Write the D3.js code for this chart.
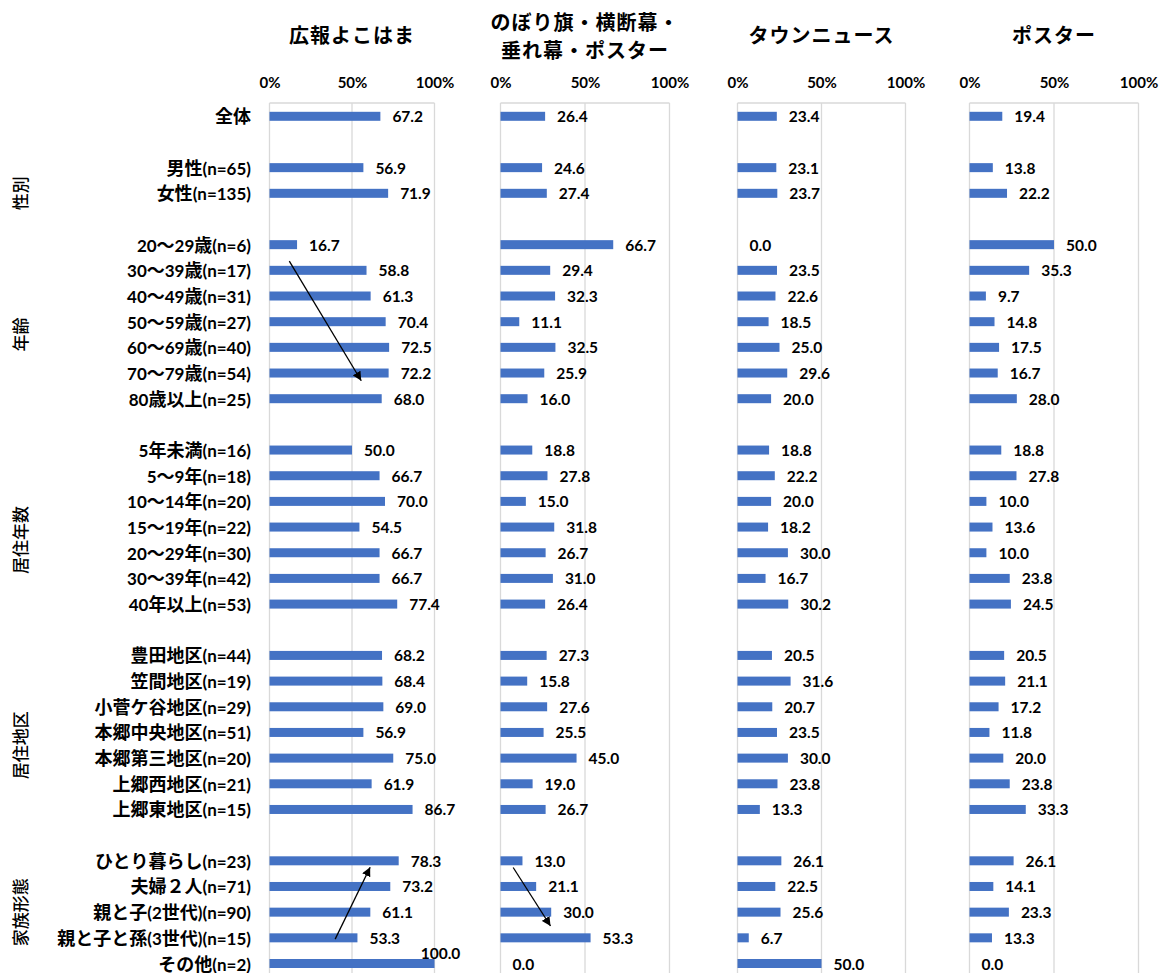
<!DOCTYPE html>
<html>
<head>
<meta charset="utf-8">
<title>広報媒体別 認知度</title>
<style type="text/css">
	body{ margin:0; background:#fff; }
	#chart text{ font-family: Lato, "Noto Sans CJK JP", sans-serif; fill:#000; }
</style>
</head>
<body>
<div id="chart"></div>

<script src="https://cdn.jsdelivr.net/npm/d3@7/dist/d3.min.js"></script>
<script>
	// rows in slot order, "" = blank spacer row
	var rowLabels = [
		'全体', '',
		'男性(n=65)', '女性(n=135)', '',
		'20～29歳(n=6)', '30～39歳(n=17)', '40～49歳(n=31)', '50～59歳(n=27)', '60～69歳(n=40)', '70～79歳(n=54)', '80歳以上(n=25)', '',
		'5年未満(n=16)', '5～9年(n=18)', '10～14年(n=20)', '15～19年(n=22)', '20～29年(n=30)', '30～39年(n=42)', '40年以上(n=53)', '',
		'豊田地区(n=44)', '笠間地区(n=19)', '小菅ケ谷地区(n=29)', '本郷中央地区(n=51)', '本郷第三地区(n=20)', '上郷西地区(n=21)', '上郷東地区(n=15)', '',
		'ひとり暮らし(n=23)', '夫婦２人(n=71)', '親と子(2世代)(n=90)', '親と子と孫(3世代)(n=15)', 'その他(n=2)'
	];

	var kouhou = [67.2, null, 56.9, 71.9, null, 16.7, 58.8, 61.3, 70.4, 72.5, 72.2, 68.0, null,
		50.0, 66.7, 70.0, 54.5, 66.7, 66.7, 77.4, null, 68.2, 68.4, 69.0, 56.9, 75.0, 61.9, 86.7, null,
		78.3, 73.2, 61.1, 53.3, 100.0];
	var nobori = [26.4, null, 24.6, 27.4, null, 66.7, 29.4, 32.3, 11.1, 32.5, 25.9, 16.0, null,
		18.8, 27.8, 15.0, 31.8, 26.7, 31.0, 26.4, null, 27.3, 15.8, 27.6, 25.5, 45.0, 19.0, 26.7, null,
		13.0, 21.1, 30.0, 53.3, 0.0];
	var townNews = [23.4, null, 23.1, 23.7, null, 0.0, 23.5, 22.6, 18.5, 25.0, 29.6, 20.0, null,
		18.8, 22.2, 20.0, 18.2, 30.0, 16.7, 30.2, null, 20.5, 31.6, 20.7, 23.5, 30.0, 23.8, 13.3, null,
		26.1, 22.5, 25.6, 6.7, 50.0];
	var poster = [19.4, null, 13.8, 22.2, null, 50.0, 35.3, 9.7, 14.8, 17.5, 16.7, 28.0, null,
		18.8, 27.8, 10.0, 13.6, 10.0, 23.8, 24.5, null, 20.5, 21.1, 17.2, 11.8, 20.0, 23.8, 33.3, null,
		26.1, 14.1, 23.3, 13.3, 0.0];

	var panelTitles = [['広報よこはま'], ['のぼり旗・横断幕・', '垂れ幕・ポスター'], ['タウンニュース'], ['ポスター']];
	var panelValues = [kouhou, nobori, townNews, poster];
	var tickValues = [0, 50, 100];

	// group captions: first and last slot covered (trailing blank included)
	var groups = [
		{ name: '性別', first: 2, last: 4 },
		{ name: '年齢', first: 5, last: 12 },
		{ name: '居住年数', first: 13, last: 20 },
		{ name: '居住地区', first: 21, last: 28 },
		{ name: '家族形態', first: 29, last: 33 }
	];

	// trend arrows: [value, slot] → [value, slot]
	var arrows = [
		{ panel: 0, from: [12, 5.64], to: [55.6, 10.3] },
		{ panel: 0, from: [39.8, 32.05], to: [61, 29.25] },
		{ panel: 1, from: [7.5, 29.26], to: [29.6, 31.54] }
	];

	var W = 1163, H = 973;
	var panelLeft = [269.5, 500.5, 737.5, 969.5];
	var panelWidth = [165, 169, 168, 169];
	var plotTop = 103, plotBottom = 990;
	var barH = 9;

	var svg = d3.select('#chart').append('svg')
		.attr('width', W).attr('height', H);

	svg.append('defs').append('marker')
		.attr('id', 'arrowhead')
		.attr('viewBox', '0 0 10 10')
		.attr('refX', 10).attr('refY', 5)
		.attr('markerWidth', 9).attr('markerHeight', 9)
		.attr('markerUnits', 'userSpaceOnUse')
		.attr('orient', 'auto')
		.append('path').attr('d', 'M0,0 L10,5 L0,10 z').attr('fill', '#000');

	var y = d3.scaleLinear().domain([0, rowLabels.length - 1]).range([116.3, 963.5]);

	// split a label into runs of wide (CJK) and narrow (latin) characters
	function runs(s){
		var out = [];
		for (var k = 0; k < s.length; k++) {
			var c = s[k];
			var wide = c.charCodeAt(0) > 0x2000;
			if (out.length && out[out.length - 1].wide === wide) out[out.length - 1].t += c;
			else out.push({ t: c, wide: wide });
		}
		return out;
	}

	// row labels
	svg.append('g').selectAll('text')
		.data(rowLabels)
		.enter().append('text')
		.attr('x', 251)
		.attr('y', function(d, i){ return y(i); })
		.attr('text-anchor', 'end')
		.attr('dominant-baseline', 'central')
		.style('font-weight', 'bold')
		.each(function(d){
			d3.select(this).selectAll('tspan')
				.data(runs(d))
				.enter().append('tspan')
				.style('font-size', function(r){ return r.wide ? '18px' : '17px'; })
				.text(function(r){ return r.t; });
		});

	// group captions
	svg.append('g').selectAll('text')
		.data(groups)
		.enter().append('text')
		.attr('transform', function(d){
			return 'translate(20,' + y((d.first + d.last) / 2) + ') rotate(-90)';
		})
		.attr('text-anchor', 'middle')
		.attr('dominant-baseline', 'central')
		.style('font-size', '17px')
		.style('font-weight', '500')
		.text(function(d){ return d.name; });

	panelValues.forEach(function(values, p){
		var x = d3.scaleLinear().domain([0, 100]).range([panelLeft[p], panelLeft[p] + panelWidth[p]]);
		var g = svg.append('g');

		// title
		var titleLines = panelTitles[p];
		var tY = titleLines.length === 1 ? [35] : [22, 50];
		g.selectAll('.title')
			.data(titleLines)
			.enter().append('text')
			.attr('class', 'title')
			.attr('x', x(50))
			.attr('y', function(d, i){ return tY[i]; })
			.attr('text-anchor', 'middle')
			.attr('dominant-baseline', 'central')
			.style('font-size', '20px')
			.style('letter-spacing', '1px')
			.style('font-weight', 'bold')
			.text(function(d){ return d; });

		// top axis labels
		var axis = d3.axisTop(x).tickValues(tickValues)
			.tickFormat(function(d){ return d + '%'; })
			.tickSize(0).tickPadding(0);
		var ax = g.append('g').attr('transform', 'translate(0,88)').call(axis);
		ax.select('.domain').remove();
		ax.selectAll('text')
			.style('font-size', '15px')
			.style('font-weight', 'bold')
			.style('font-family', 'Lato, sans-serif');

		// grid + frame
		g.selectAll('.grid')
			.data(tickValues)
			.enter().append('line')
			.attr('class', 'grid')
			.attr('x1', function(d){ return x(d); })
			.attr('x2', function(d){ return x(d); })
			.attr('y1', plotTop).attr('y2', plotBottom)
			.attr('stroke', '#d9d9d9').attr('stroke-width', 1.3);
		g.append('line')
			.attr('x1', x(0)).attr('x2', x(100))
			.attr('y1', plotTop).attr('y2', plotTop)
			.attr('stroke', '#d9d9d9').attr('stroke-width', 1.3);

		var rows = values.map(function(v, i){ return { v: v, i: i }; })
			.filter(function(d){ return d.v !== null; });

		g.selectAll('.bar')
			.data(rows)
			.enter().append('rect')
			.attr('class', 'bar')
			.attr('x', x(0))
			.attr('y', function(d){ return y(d.i) - barH / 2; })
			.attr('width', function(d){ return x(d.v) - x(0); })
			.attr('height', barH)
			.attr('fill', '#4472c4');

		g.selectAll('.lbl')
			.data(rows)
			.enter().append('text')
			.attr('class', 'lbl')
			.attr('x', function(d){ return d.v >= 100 ? x(100) + 6 : x(d.v) + 12; })
			.attr('y', function(d){ return d.v >= 100 ? y(d.i) - 11 : y(d.i); })
			.attr('text-anchor', function(d){ return d.v >= 100 ? 'middle' : 'start'; })
			.attr('dominant-baseline', 'central')
			.style('font-size', '15.5px')
			.style('font-weight', 'bold')
			.text(function(d){ return d.v.toFixed(1); });

		// arrows for this panel
		g.selectAll('.arrow')
			.data(arrows.filter(function(a){ return a.panel === p; }))
			.enter().append('line')
			.attr('class', 'arrow')
			.attr('x1', function(d){ return x(d.from[0]); })
			.attr('y1', function(d){ return y(d.from[1]); })
			.attr('x2', function(d){ return x(d.to[0]); })
			.attr('y2', function(d){ return y(d.to[1]); })
			.attr('stroke', '#000').attr('stroke-width', 1.3)
			.attr('marker-end', 'url(#arrowhead)');
	});
</script>
</body>
</html>
